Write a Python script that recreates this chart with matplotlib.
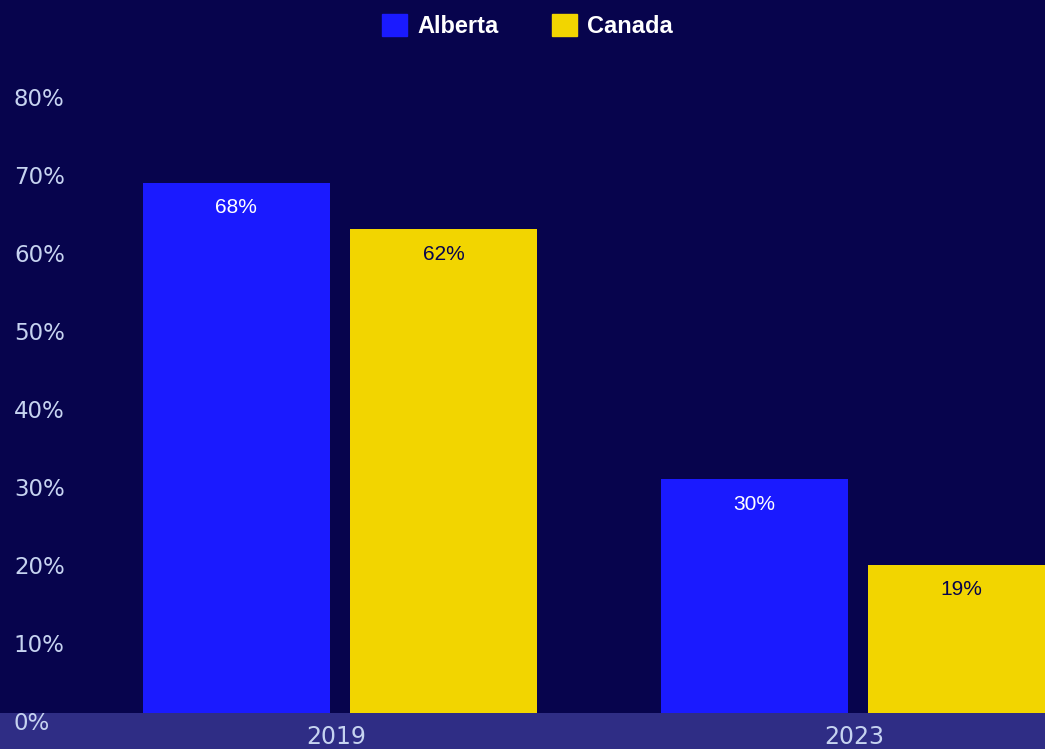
import matplotlib
matplotlib.use("Agg")
import matplotlib.pyplot as plt
from matplotlib.transforms import ScaledTranslation
from matplotlib.patches import Patch
import numpy as np

years = ["2019", "2023"]
alberta = [68, 30]
canada = [62, 19]
yticks = [0, 10, 20, 30, 40, 50, 60, 70, 80]

bg = "#07044d"
band = "#2f2d85"
blue = "#1a1aff"
yellow = "#f2d500"
tick_col = "#c6d3f0"

fig = plt.figure(figsize=(10.45, 7.49), dpi=100, facecolor=band)
ax = fig.add_axes([0, 36 / 749, 1, 713 / 749])
ax.set_facecolor(bg)

x = np.arange(len(years))
w = 0.361
off = 0.2
b1 = ax.bar(x - off, alberta, w, color=blue)
b2 = ax.bar(x + off, canada, w, color=yellow)

for rect, v in zip(b1, alberta):
    ax.annotate(f"{v}%", (rect.get_x() + rect.get_width() / 2, v), xytext=(0, -18),
                textcoords="offset points", ha="center", va="center",
                fontsize=15, color="white", family="Liberation Sans")
for rect, v in zip(b2, canada):
    ax.annotate(f"{v}%", (rect.get_x() + rect.get_width() / 2, v), xytext=(0, -18),
                textcoords="offset points", ha="center", va="center",
                fontsize=15, color="#07044d", family="Liberation Sans")

ax.set_xlim(-0.656, 1.361)
ax.set_ylim(0, 713 / 7.8)

ax.set_yticks(yticks)
ax.set_yticklabels([f"{t}%" for t in yticks])
ax.tick_params(axis="y", length=0, pad=-10, labelsize=16.5, labelcolor=tick_col)
for lab in ax.get_yticklabels():
    lab.set_horizontalalignment("left")
    lab.set_transform(lab.get_transform() + ScaledTranslation(0, -8 / fig.dpi, fig.dpi_scale_trans))

ax.set_xticks(x)
ax.set_xticklabels(years)
ax.tick_params(axis="x", length=0, pad=9, labelsize=17, labelcolor=tick_col)
for lab in ax.get_xticklabels():
    lab.set_transform(lab.get_transform() + ScaledTranslation(-4 / fig.dpi, 0, fig.dpi_scale_trans))

for s in ax.spines.values():
    s.set_visible(False)

handles = [Patch(color=blue, label="Alberta"), Patch(color=yellow, label="Canada")]
fig.legend(handles=handles, loc="upper center", bbox_to_anchor=(0.505, 1.01), ncol=2,
           frameon=False, handlelength=1.05, handleheight=1.05, handletextpad=0.45,
           columnspacing=2.23, prop={"family": "Liberation Sans", "weight": "bold", "size": 17},
           labelcolor="white")

fig.savefig("out.png", dpi=100, facecolor=band)
